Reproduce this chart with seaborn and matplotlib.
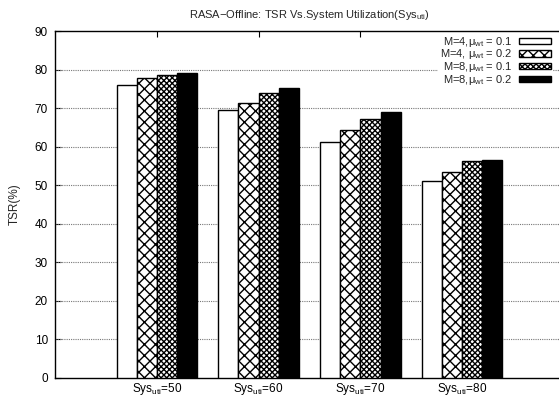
import matplotlib
matplotlib.use("Agg")
import matplotlib.pyplot as plt
import pandas as pd
import seaborn as sns

# Data
groups = ["Sys$_{\\mathrm{uti}}$=50", "Sys$_{\\mathrm{uti}}$=60",
          "Sys$_{\\mathrm{uti}}$=70", "Sys$_{\\mathrm{uti}}$=80"]
series = ["M=4,μ$_{\\mathrm{wt}}$ = 0.1", "M=4, μ$_{\\mathrm{wt}}$ = 0.2",
          "M=8,μ$_{\\mathrm{wt}}$ = 0.1", "M=8,μ$_{\\mathrm{wt}}$ = 0.2"]
m4_01 = [76.0, 69.4, 61.3, 51.2]
m4_02 = [77.7, 71.2, 64.2, 53.3]
m8_01 = [78.6, 73.9, 67.2, 56.3]
m8_02 = [79.2, 75.3, 68.9, 56.5]

sns.set_theme(style="white")
plt.rcParams["font.family"] = ["Liberation Sans", "DejaVu Sans"]
plt.rcParams["mathtext.fontset"] = "custom"
plt.rcParams["mathtext.rm"] = "Liberation Sans"
plt.rcParams["mathtext.it"] = "Liberation Sans:italic"
plt.rcParams["hatch.linewidth"] = 1.0

rows = []
for name, vals in zip(series, [m4_01, m4_02, m8_01, m8_02]):
    for g, v in zip(groups, vals):
        rows.append({"group": g, "series": name, "tsr": v})
df = pd.DataFrame(rows)

fig = plt.figure(figsize=(5.59, 3.96), dpi=100)
ax = fig.add_axes([55 / 559, 18 / 396, (564 - 55) / 559, (378 - 31) / 396])

sns.barplot(data=df, x="group", y="tsr", hue="series", order=groups, hue_order=series,
            palette=["white", "white", "white", "black"], saturation=1,
            edgecolor="black", linewidth=1.0, width=0.79, legend=False, ax=ax, zorder=3)

hatches = ["", "xxx", "xxxxxx", ""]
for cont, h in zip(ax.containers, hatches):
    for bar in cont:
        bar.set_hatch(h)

ax.set_xlim(-1, 4)
ax.set_ylim(0, 90)
ax.set_yticks(range(0, 91, 10))
for y in range(10, 90, 10):
    ax.axhline(y, color="#777777", linestyle=(0, (1, 1)), linewidth=0.8, zorder=1)

ax.set_xlabel("")
ax.set_ylabel("TSR(%)", fontsize=8.5, labelpad=10)
ax.set_title("RASA−Offline: TSR Vs.System Utilization(Sys$_{\\mathrm{uti}}$)", fontsize=8, pad=9)
ax.tick_params(axis="both", direction="in", length=4, width=0.8, labelsize=8.5,
               top=True, right=True, bottom=True, left=True, colors="black")
ax.tick_params(axis="y", pad=5)
ax.tick_params(axis="x", pad=2)
for s in ax.spines.values():
    s.set_color("black")
    s.set_linewidth(1.0)

leg = ax.legend(ax.containers, series, loc="upper right", bbox_to_anchor=(0.99, 1.012),
                markerfirst=False, fontsize=8, handlelength=2.9, handleheight=0.5,
                labelspacing=-0.12, handletextpad=0.6, borderpad=0.2,
                frameon=True, fancybox=False, framealpha=1)
leg.set_zorder(5)
leg.get_frame().set_edgecolor("none")
leg.get_frame().set_facecolor("white")
for t in leg.get_texts():
    t.set_ha("right")

# keep the top axis line drawn over the legend box
ax.spines["top"].set_zorder(6)

fig.savefig("out.png", dpi=100)
